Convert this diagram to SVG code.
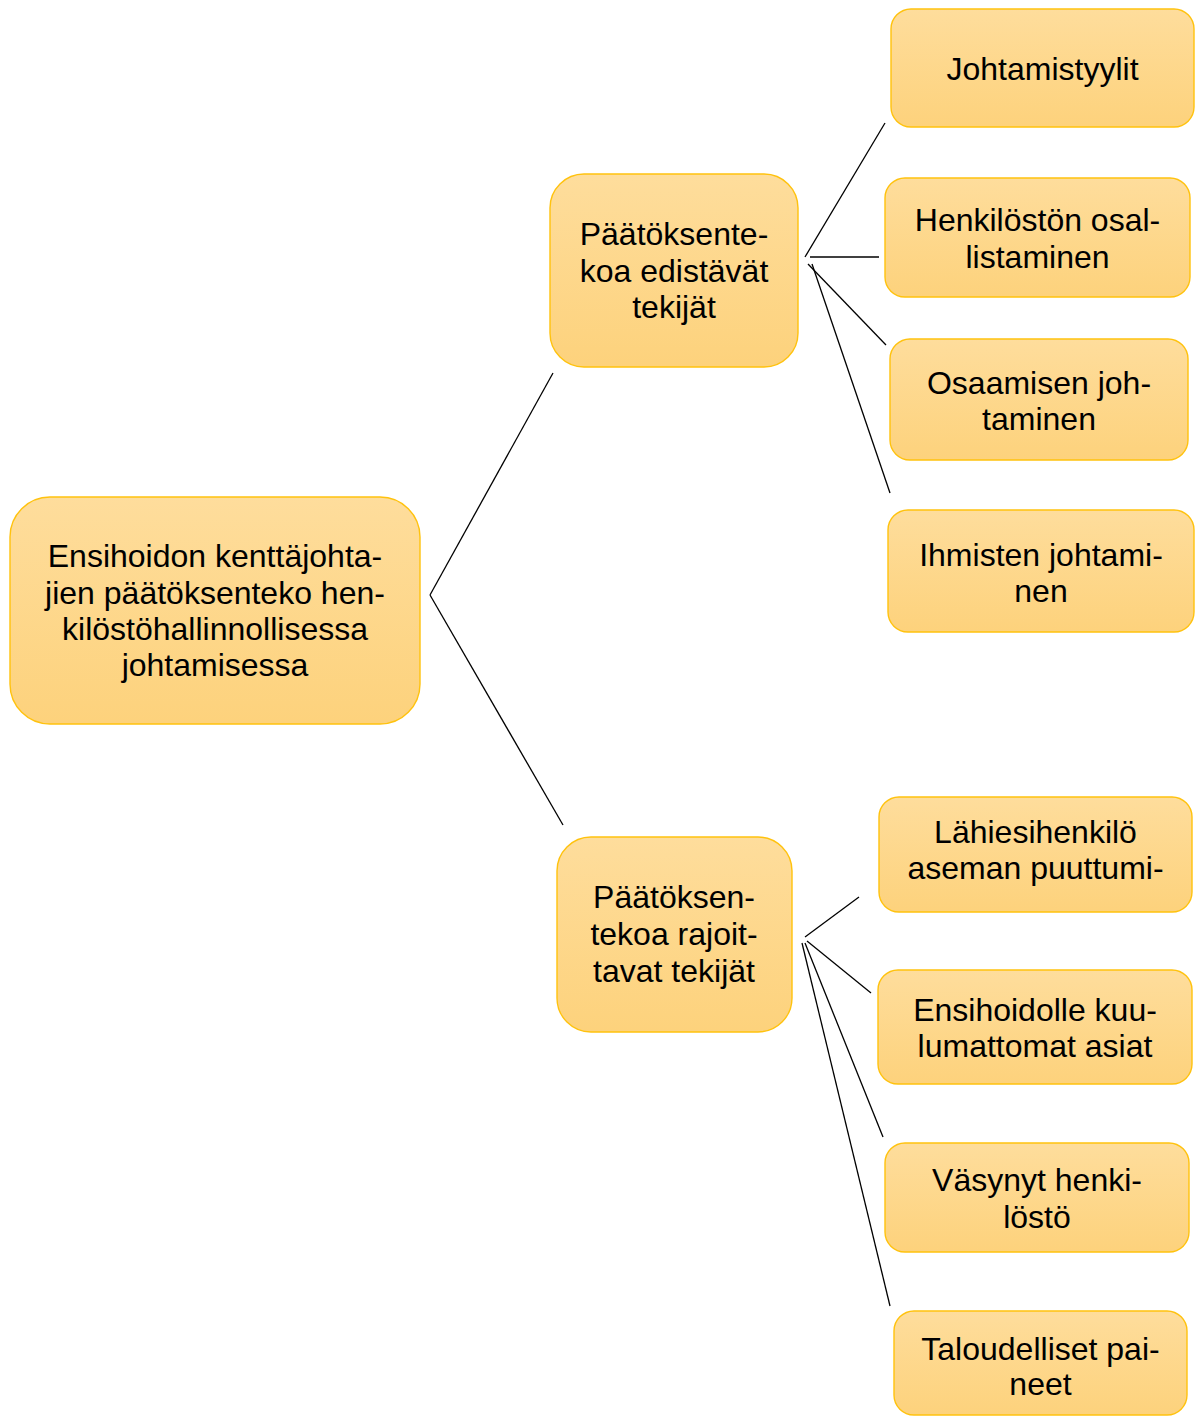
<svg xmlns="http://www.w3.org/2000/svg" width="1203" height="1416" viewBox="0 0 1203 1416">
<defs>
<linearGradient id="g" x1="0" y1="0" x2="0" y2="1">
<stop offset="0" stop-color="#FEDD9C"/>
<stop offset="1" stop-color="#FDD27C"/>
</linearGradient>
<style>
.box{fill:url(#g);stroke:#FFC20E;stroke-width:1.4}
text{font-family:"Liberation Sans",Arial,sans-serif;font-size:32px;fill:#000;text-anchor:middle}
.c line{stroke:#000;stroke-width:1.3}
</style>
</defs>
<rect width="1203" height="1416" fill="#fff"/>
<g class="c" id="connectors">
<line x1="430" y1="595" x2="553" y2="373"/>
<line x1="430" y1="595" x2="563" y2="825"/>
<line x1="805" y1="257" x2="885" y2="123"/>
<line x1="810" y1="257" x2="879" y2="257"/>
<line x1="808" y1="264" x2="886" y2="345"/>
<line x1="812" y1="264" x2="890" y2="493"/>
<line x1="805" y1="937" x2="859" y2="897"/>
<line x1="807" y1="941" x2="871" y2="993"/>
<line x1="805" y1="943" x2="883" y2="1137"/>
<line x1="802" y1="943" x2="890" y2="1306"/>
</g>
<g id="root">
<rect class="box" x="10" y="497" width="410" height="227" rx="40"/>
<text x="215" y="567">Ensihoidon kenttäjohta-</text>
<text x="215" y="604">jien päätöksenteko hen-</text>
<text x="215" y="640">kilöstöhallinnollisessa</text>
<text x="215" y="676">johtamisessa</text>
</g>
<g id="edistavat">
<rect class="box" x="550" y="174" width="248" height="193" rx="34"/>
<text x="674" y="245">Päätöksente-</text>
<text x="674" y="282">koa edistävät</text>
<text x="674" y="318">tekijät</text>
</g>
<g id="rajoittavat">
<rect class="box" x="557" y="837" width="235" height="195" rx="34"/>
<text x="674" y="908">Päätöksen-</text>
<text x="674" y="945">tekoa rajoit-</text>
<text x="674" y="982">tavat tekijät</text>
</g>
<g id="johtamistyylit">
<rect class="box" x="891" y="9" width="303" height="118" rx="20"/>
<text x="1042.5" y="80">Johtamistyylit</text>
</g>
<g id="osallistaminen">
<rect class="box" x="885" y="178" width="305" height="119" rx="20"/>
<text x="1037.5" y="231">Henkilöstön osal-</text>
<text x="1037.5" y="268">listaminen</text>
</g>
<g id="osaamisen">
<rect class="box" x="890" y="339" width="298" height="121" rx="20"/>
<text x="1039" y="394">Osaamisen joh-</text>
<text x="1039" y="430">taminen</text>
</g>
<g id="ihmisten">
<rect class="box" x="888" y="510" width="306" height="122" rx="20"/>
<text x="1041" y="566">Ihmisten johtami-</text>
<text x="1041" y="602">nen</text>
</g>
<g id="lahiesihenkilo">
<rect class="box" x="879" y="797" width="313" height="115" rx="20"/>
<text x="1035.5" y="843">Lähiesihenkilö</text>
<text x="1035.5" y="879">aseman puuttumi-</text>
</g>
<g id="kuulumattomat">
<rect class="box" x="878" y="970" width="314" height="114" rx="20"/>
<text x="1035" y="1021">Ensihoidolle kuu-</text>
<text x="1035" y="1057">lumattomat asiat</text>
</g>
<g id="vasynyt">
<rect class="box" x="885" y="1143" width="304" height="109" rx="20"/>
<text x="1037" y="1191">Väsynyt henki-</text>
<text x="1037" y="1228">löstö</text>
</g>
<g id="taloudelliset">
<rect class="box" x="894" y="1311" width="293" height="104" rx="20"/>
<text x="1040.5" y="1360">Taloudelliset pai-</text>
<text x="1040.5" y="1395">neet</text>
</g>
</svg>
